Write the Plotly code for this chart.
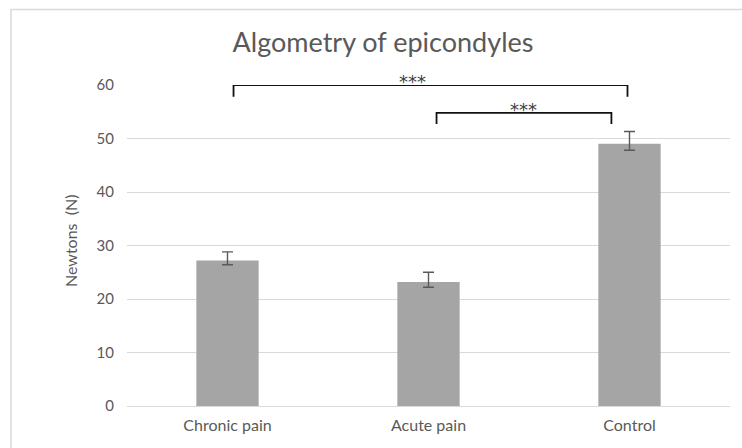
import plotly.graph_objects as go

# Pressure pain thresholds per group
categories = ["Chronic pain", "Acute pain", "Control"]
means = [27.2, 23.2, 49.0]
err_plus = [1.6, 1.8, 2.3]
err_minus = [0.8, 1.0, 1.2]

# Significance comparisons: (label, left group index, right group index, level)
comparisons = [
    ("***", 0, 2, 60.0),
    ("***", 1, 2, 54.8),
]
y_ticks = [0, 10, 20, 30, 40, 50, 60]

GREY_TXT = "#595959"
FONT = "Lato"
positions = list(range(len(categories)))

fig = go.Figure()
fig.add_trace(go.Bar(
    x=positions, y=means, width=0.31,
    marker=dict(color="#a5a5a5", line=dict(width=0)),
    error_y=dict(type="data", symmetric=False, array=err_plus, arrayminus=err_minus,
                 color="#595959", thickness=1.4, width=5.5),
    showlegend=False, hoverinfo="skip",
))

# bracket geometry (offsets in group units / value units)
left_pad = [0.03, 0.04]
right_pad = [-0.01, -0.09]
drop = [2.2, 2.1]
label_dx = [-0.09, 0.0]
for i, (lab, a, b, lvl) in enumerate(comparisons):
    xa = a + left_pad[i]
    xb = b + right_pad[i]
    fig.add_trace(go.Scatter(
        x=[xa, xa, xb, xb], y=[lvl - drop[i], lvl, lvl, lvl - drop[i]],
        mode="lines", line=dict(color="#111111", width=1.8),
        cliponaxis=False, showlegend=False, hoverinfo="skip",
    ))
    fig.add_annotation(
        x=(xa + xb) / 2 + label_dx[i], y=lvl,
        xref="x", yref="y", text=lab, showarrow=False, xanchor="center",
        yanchor="middle", yshift=3.5,
        font=dict(family="DejaVu Sans", size=18, color="#404040"),
    )

fig.add_annotation(
    x=(70 - 127) / 603, y=(406 - 241) / 321, xref="paper", yref="paper",
    text="Newtons  (N)", textangle=-90, showarrow=False,
    xanchor="center", yanchor="middle",
    font=dict(family=FONT, size=16, color=GREY_TXT),
)

# chart frame
fig.add_shape(type="rect", xref="paper", yref="paper",
              x0=(11 - 127) / 603, x1=(760 - 127) / 603,
              y0=(406 - 470) / 321, y1=(406 - 9.5) / 321,
              line=dict(color="#d9d9d9", width=1.5), fillcolor="rgba(0,0,0,0)", layer="below")

fig.update_layout(
    width=742, height=448,
    margin=dict(l=127, r=12, t=85, b=42),
    paper_bgcolor="white", plot_bgcolor="white",
    title=dict(text="Algometry of epicondyles", x=383 / 742, xanchor="center",
               y=1 - 43 / 448, yanchor="middle",
               font=dict(family=FONT, size=27, color=GREY_TXT)),
    font=dict(family=FONT, color=GREY_TXT),
)
fig.update_xaxes(
    range=[-0.5, 2.5], tickvals=positions, ticktext=categories,
    showgrid=False, showline=False, zeroline=False,
    ticks="", tickfont=dict(family=FONT, size=16, color=GREY_TXT), ticklabelstandoff=8,
)
fig.update_yaxes(
    range=[0, 60], tickvals=y_ticks, showgrid=True, gridcolor="#d9d9d9", gridwidth=1.2,
    zeroline=True, zerolinecolor="#d9d9d9", zerolinewidth=1.2, showline=False, ticks="",
    tickfont=dict(family=FONT, size=15, color=GREY_TXT), ticklabelstandoff=12,
)

fig.write_html("out.html")
